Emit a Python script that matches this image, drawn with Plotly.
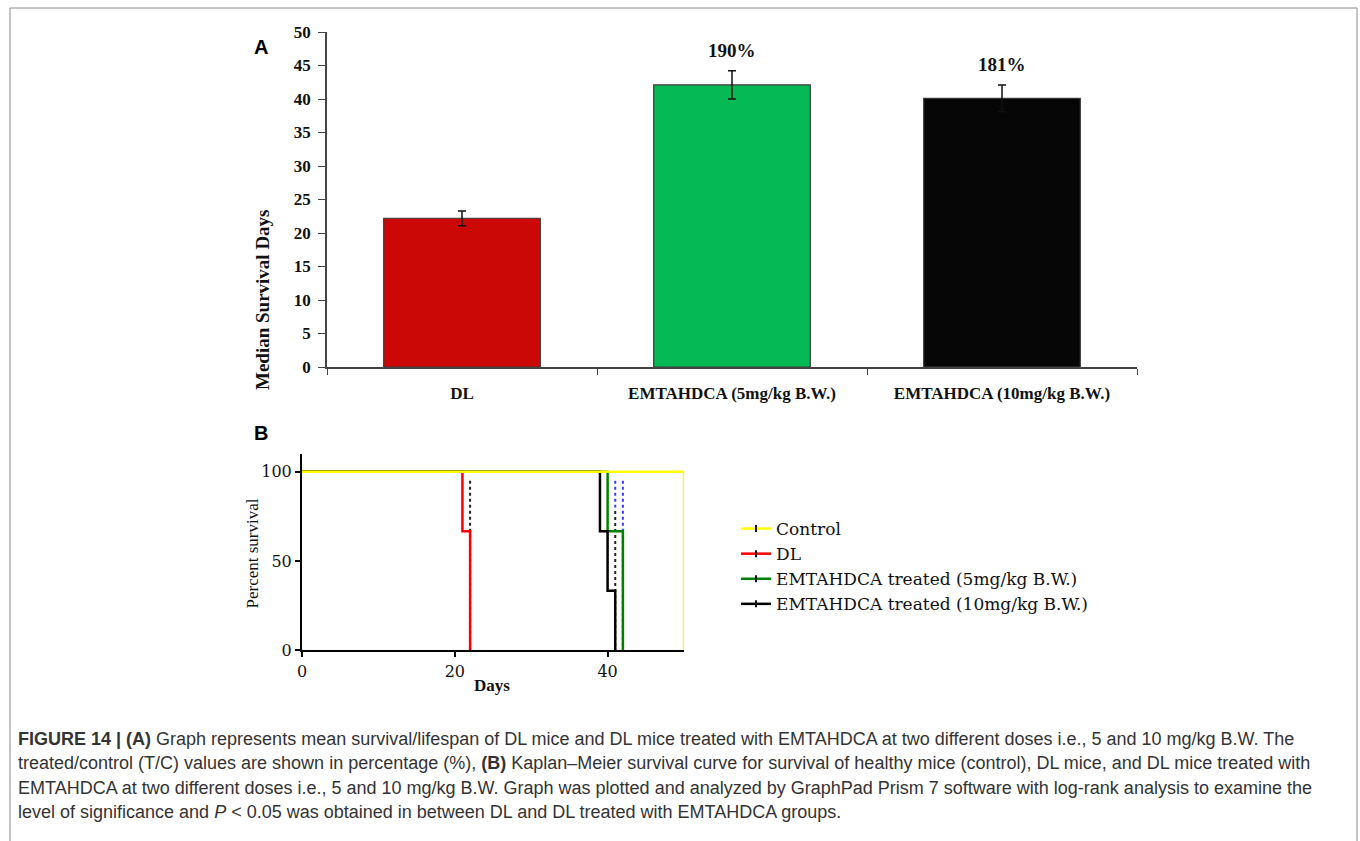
import plotly.graph_objects as go

# ---------------- data ----------------
# Panel A: median survival days (with error) per group
groups = ["DL", "EMTAHDCA (5mg/kg B.W.)", "EMTAHDCA (10mg/kg B.W.)"]
median_days = [22.2, 42.1, 40.1]
median_err = [1.1, 2.1, 2.0]
tc_labels = ["", "190%", "181%"]
bar_colors = ["#cc0806", "#05b955", "#060606"]

# Panel B: Kaplan-Meier steps (day of event, percent surviving after it)
km_names = ["Control", "DL", "EMTAHDCA treated (5mg/kg B.W.)", "EMTAHDCA treated (10mg/kg B.W.)"]
km_colors = ["#ffff00", "#ff0000", "#008000", "#000000"]
control_days = [0, 50]
control_surv = [100, 0]
dl_days = [0, 21, 22]
dl_surv = [100, 66.7, 0]
emt5_days = [0, 40, 42]
emt5_surv = [100, 66.7, 0]
emt10_days = [0, 39, 40, 41]
emt10_surv = [100, 66.7, 33.3, 0]

# dotted bands drawn beside the steps in the original
band_dl_days = [22, 22]
band_dl_pct = [95, 0]
band_blue_a_days = [41, 41]
band_blue_a_pct = [95, 80]
band_blue_b_days = [42, 42]
band_blue_b_pct = [95, 0]
band_black_days = [41, 41]
band_black_pct = [78, 0]

caption_lines = [
    "<b>FIGURE 14 | (A)</b> Graph represents mean survival/lifespan of DL mice and DL mice treated with EMTAHDCA at two different doses i.e., 5 and 10 mg/kg B.W. The",
    "treated/control (T/C) values are shown in percentage (%), <b>(B)</b> Kaplan\u2013Meier survival curve for survival of healthy mice (control), DL mice, and DL mice treated with",
    "EMTAHDCA at two different doses i.e., 5 and 10 mg/kg B.W. Graph was plotted and analyzed by GraphPad Prism 7 software with log-rank analysis to examine the",
    "level of significance and <i>P</i> &lt; 0.05 was obtained in between DL and DL treated with EMTAHDCA groups.",
]

# ---------------- layout helpers (page pixels -> paper) ----------------
W, H = 1360, 841


def px(x):
    return x / W


def py(y):
    return 1 - y / H


SERIF = "Liberation Serif, Times New Roman, serif"
SERIF2 = "DejaVu Serif, serif"
SANS = "Liberation Sans, Arial, sans-serif"

fig = go.Figure()

# Panel A bars
fig.add_trace(go.Bar(
    x=groups, y=median_days,
    marker=dict(color=bar_colors, line=dict(color="#3a3a3a", width=1.2)),
    width=0.58,
    error_y=dict(type="data", array=median_err, color="#111", thickness=1.5, width=4),
    xaxis="x", yaxis="y", showlegend=False,
))

for g, v, e, t in zip(groups, median_days, median_err, tc_labels):
    if t:
        fig.add_annotation(x=g, y=v + e, xref="x", yref="y", text="<b>%s</b>" % t,
                           showarrow=False, yanchor="bottom", yshift=8,
                           font=dict(family=SERIF, size=19, color="#111"))

# Panel B dotted bands
for xs, ys, col in [(band_dl_days, band_dl_pct, "#222"),
                    (band_blue_a_days, band_blue_a_pct, "#3a3aff"),
                    (band_blue_b_days, band_blue_b_pct, "#3a3aff"),
                    (band_black_days, band_black_pct, "#222")]:
    fig.add_trace(go.Scatter(x=xs, y=ys, mode="lines", line=dict(color=col, width=2, dash="dot"),
                             xaxis="x2", yaxis="y2", showlegend=False, hoverinfo="skip"))

# KM curves (control last, on top)
km_data = [(dl_days, dl_surv, 1), (emt5_days, emt5_surv, 2), (emt10_days, emt10_surv, 3),
           (control_days, control_surv, 0)]
for xs, ys, i in km_data:
    fig.add_trace(go.Scatter(x=xs, y=ys, mode="lines",
                             line=dict(color=km_colors[i], width=2.5, shape="hv"),
                             xaxis="x2", yaxis="y2", showlegend=False))

# legend entries
for i, name in enumerate(km_names):
    fig.add_trace(go.Scatter(x=[None], y=[None], mode="lines+markers", name=name,
                             line=dict(color=km_colors[i], width=2.5),
                             marker=dict(symbol="line-ns-open", size=5, color="#111",
                                         line=dict(color="#111", width=2)),
                             legendgroup="g%d" % i, xaxis="x2", yaxis="y2"))

fig.update_layout(
    width=W, height=H,
    margin=dict(l=0, r=0, t=0, b=0),
    paper_bgcolor="white", plot_bgcolor="white",
    showlegend=True,
    legend=dict(x=px(736), y=py(511), xanchor="left", yanchor="top",
                font=dict(family=SERIF2, size=17, color="#111"),
                tracegroupgap=0, itemwidth=30, bgcolor="rgba(0,0,0,0)"),
    xaxis=dict(domain=[px(327), px(1137)], showline=True, linecolor="#444", linewidth=1.5,
               ticks="outside", tickson="boundaries", ticklen=6, tickcolor="#444",
               tickfont=dict(family=SERIF, size=17, color="#111", weight="bold"),
               ticklabelstandoff=10, showgrid=False, zeroline=False, automargin=False),
    yaxis=dict(domain=[py(367), py(32)], range=[0, 50], dtick=5, showline=True,
               linecolor="#444", linewidth=1.5, ticks="outside", ticklen=7, tickcolor="#444",
               tickfont=dict(family=SERIF, size=17, color="#111", weight="bold"),
               ticklabelstandoff=4, showgrid=False, zeroline=False, automargin=False),
    xaxis2=dict(domain=[px(302), px(684)], range=[0, 50], tickvals=[0, 20, 40],
                showline=True, linecolor="#000", linewidth=2, ticks="outside", ticklen=5,
                tickwidth=2, tickcolor="#000", ticklabelstandoff=1,
                tickfont=dict(family=SERIF2, size=16, color="#111"),
                showgrid=False, zeroline=False, anchor="y2", automargin=False),
    yaxis2=dict(domain=[py(650), py(454)], range=[0, 110], tickvals=[0, 50, 100],
                showline=True, linecolor="#000", linewidth=2, ticks="outside", ticklen=5,
                tickwidth=2, tickcolor="#000",
                tickfont=dict(family=SERIF2, size=16, color="#111"),
                showgrid=False, zeroline=False, anchor="x2", automargin=False),
)

# titles and panel letters
fig.add_annotation(x=px(250), y=py(207), xref="paper", yref="paper", text="<b>Median Survival Days</b>",
                   textangle=-90, showarrow=False, font=dict(family=SERIF, size=19, color="#111"))
fig.add_annotation(x=px(240), y=py(554), xref="paper", yref="paper", text="Percent survival",
                   textangle=-90, showarrow=False, font=dict(family=SERIF, size=17, color="#111"))
fig.add_annotation(x=px(492), y=py(697), xref="paper", yref="paper", text="<b>Days</b>",
                   showarrow=False, font=dict(family=SERIF, size=17, color="#111"))
fig.add_annotation(x=px(252), y=py(34), xref="paper", yref="paper", text="<b>A</b>",
                   showarrow=False, font=dict(family=SANS, size=20, color="#000"))
fig.add_annotation(x=px(252), y=py(433), xref="paper", yref="paper", text="<b>B</b>",
                   showarrow=False, font=dict(family=SANS, size=20, color="#000"))

# caption
cap_y = [751, 775, 800, 824]
for line, yy in zip(caption_lines, cap_y):
    fig.add_annotation(x=px(16), y=py(yy), xref="paper", yref="paper", text=line,
                       xanchor="left", showarrow=False,
                       font=dict(family=SANS, size=18, color="#333"))

# frame (left, top, right)
for x0, y0, x1, y1 in [(10, 8, 10, 841), (10, 8, 1357, 8), (1357, 8, 1357, 841)]:
    fig.add_shape(type="line", xref="paper", yref="paper", x0=px(x0), x1=px(x1), y0=py(y0), y1=py(y1),
                  line=dict(color="#8a8a8a", width=1))

fig.write_html("out.html", config={"displayModeBar": False},
               post_script="document.documentElement.style.margin='0';document.body.style.margin='0';"
                           "document.documentElement.style.overflow='hidden';document.body.style.overflow='hidden';")
